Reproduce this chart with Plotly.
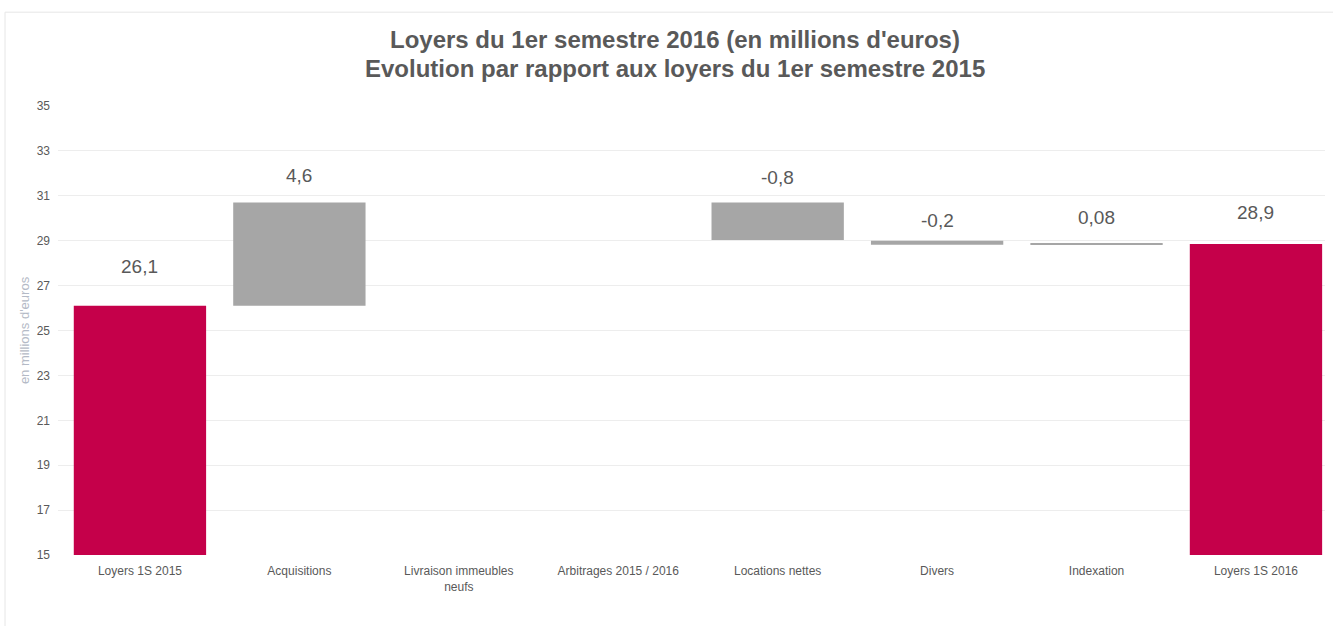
import plotly.graph_objects as go

categories = ["Loyers 1S 2015", "Acquisitions", "Livraison immeubles<br>neufs",
              "Arbitrages 2015 / 2016", "Locations nettes", "Divers", "Indexation", "Loyers 1S 2016"]
bar_bottom = [15, 26.1, None, None, 29.03, 28.82, 28.82, 15]
bar_top = [26.1, 30.7, None, None, 30.7, 29.0, 28.87, 28.85]
label_text = ["26,1", "4,6", "", "", "-0,8", "-0,2", "0,08", "28,9"]
bar_kind = ["total", "delta", "delta", "delta", "delta", "delta", "delta", "total"]
title_lines = ["Loyers du 1er semestre 2016 (en millions d'euros)",
               "Evolution par rapport aux loyers du 1er semestre 2015"]

RED = "#C5004A"
GREY = "#A6A6A6"
TXT = "#595959"
FONT = "Liberation Sans, Arial, sans-serif"
label_shift = [39, 27, 0, 0, 25, 20, 26, 32]  # px above bar top (style)

xs = list(range(len(categories)))
heights = [(t - b) if (t is not None and b is not None) else None for b, t in zip(bar_bottom, bar_top)]
colors = [RED if k == "total" else GREY for k in bar_kind]

fig = go.Figure()
fig.add_trace(go.Bar(
    x=xs, y=heights, base=bar_bottom, width=0.83,
    marker=dict(color=colors, line=dict(width=0)),
    hoverinfo="skip", showlegend=False,
))

for i, t in enumerate(label_text):
    if t:
        fig.add_annotation(x=xs[i], y=bar_top[i], text=t, showarrow=False,
                           yshift=label_shift[i], yanchor="middle",
                           font=dict(size=19, color=TXT, family=FONT))

for yy, line in zip([1.1470, 1.0846], title_lines):
    fig.add_annotation(xref="paper", yref="paper", x=0.487, y=yy, text="<b>%s</b>" % line,
                       showarrow=False, xanchor="center", yanchor="middle",
                       font=dict(size=24, color=TXT, family=FONT))

fig.update_layout(
    width=1333, height=626,
    paper_bgcolor="white", plot_bgcolor="white",
    margin=dict(l=58, r=8, t=106, b=71),
    font=dict(family=FONT, color=TXT),
    xaxis=dict(
        tickmode="array", tickvals=xs, ticktext=categories,
        range=[-0.514, 7.433], showgrid=False, zeroline=False,
        tickfont=dict(size=12, color=TXT), ticks="", showline=False,
        ticklabelstandoff=7,
    ),
    yaxis=dict(
        range=[15, 35], dtick=2, tick0=15, showgrid=True, gridcolor="#EDEDED", gridwidth=1,
        zeroline=False, tickfont=dict(size=12, color=TXT), ticks="", showline=False,
        ticklabelstandoff=7,
        title=dict(text="en millions d'euros", font=dict(size=13, color="#B4BAC6"), standoff=4),
    ),
    shapes=[dict(type="rect", xref="paper", yref="paper",
                 x0=-0.0418, x1=1.2, y0=-0.3, y1=1.209,
                 line=dict(color="#E6E6E6", width=1), layer="below")],
)

fig.write_html("out.html", post_script="document.body.style.margin='0';",
               config={"displayModeBar": False})
